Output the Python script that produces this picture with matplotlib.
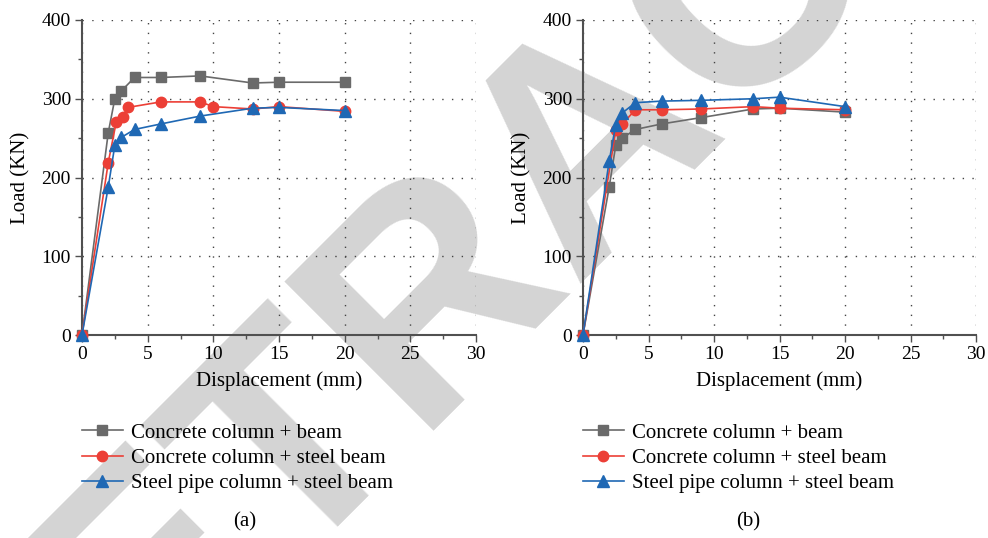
import numpy as np
import matplotlib
matplotlib.use('Agg')
import matplotlib.pyplot as plt
from matplotlib.ticker import MultipleLocator

plt.rcParams['font.family'] = ['Liberation Serif', 'DejaVu Serif']

# Panel (a)
a_conc_beam_x = [0, 2, 2.5, 3, 4, 6, 9, 13, 15, 20]
a_conc_beam_y = [0, 257, 300, 310, 327, 327, 329, 320, 321, 321]
a_conc_steel_x = [0, 2, 2.6, 3.1, 3.5, 6, 9, 10, 13, 15, 20]
a_conc_steel_y = [0, 219, 270, 277, 289, 296, 296, 290, 287, 290, 284]
a_pipe_steel_x = [0, 2, 2.5, 3, 4, 6, 9, 13, 15, 20]
a_pipe_steel_y = [0, 188, 241, 251, 261, 268, 278, 288, 289, 285]

# Panel (b)
b_conc_beam_x = [0, 2, 2.5, 3, 4, 6, 9, 13, 15, 20]
b_conc_beam_y = [0, 188, 241, 250, 261, 268, 276, 287, 288, 283]
b_conc_steel_x = [0, 2.5, 3, 4, 6, 9, 13, 15, 20]
b_conc_steel_y = [0, 260, 268, 286, 286, 287, 290, 288, 286]
b_pipe_steel_x = [0, 2, 2.5, 3, 4, 6, 9, 13, 15, 20]
b_pipe_steel_y = [0, 221, 267, 282, 295, 297, 298, 300, 302, 290]

labels = ['Concrete column + beam',
          'Concrete column + steel beam',
          'Steel pipe column + steel beam']
colors = ['#6a6a6a', '#ec3f36', '#1f68b4']
markers = ['s', 'o', '^']
msizes = [6.5, 7.5, 8]

fig = plt.figure(figsize=(9.88, 5.38), dpi=100)

# watermark, behind the plots
fig.text(648 / 988, 1 - 196 / 538, 'RETRACTED', fontsize=220, color='#d4d4d4',
         family='Liberation Sans', weight='bold', rotation=45,
         rotation_mode='anchor', ha='center', va='baseline', zorder=-1)

W, H = 988, 538
panels = [
    (82, 476, 'a', [(a_conc_beam_x, a_conc_beam_y),
                    (a_conc_steel_x, a_conc_steel_y),
                    (a_pipe_steel_x, a_pipe_steel_y)], 245),
    (583, 976, 'b', [(b_conc_beam_x, b_conc_beam_y),
                     (b_conc_steel_x, b_conc_steel_y),
                     (b_pipe_steel_x, b_pipe_steel_y)], 748),
]

for left, right, tag, series, cap_x in panels:
    ax = fig.add_axes([left / W, (H - 335) / H, (right - left) / W, 315 / H])
    ax.patch.set_alpha(0)
    for (x, y), lab, c, m, ms in zip(series, labels, colors, markers, msizes):
        ax.plot(x, y, color=c, marker=m, markersize=ms, lw=1.2, label=lab,
                clip_on=False, zorder=3)
    ax.set_xlim(0, 30)
    ax.set_ylim(0, 400)
    ax.xaxis.set_major_locator(MultipleLocator(5))
    ax.xaxis.set_minor_locator(MultipleLocator(2.5))
    ax.yaxis.set_major_locator(MultipleLocator(100))
    ax.yaxis.set_minor_locator(MultipleLocator(50))
    for s in ['top', 'right']:
        ax.spines[s].set_visible(False)
    for s in ['left', 'bottom']:
        ax.spines[s].set_color('#505050')
        ax.spines[s].set_linewidth(1.5)
    ax.tick_params(which='major', length=5, width=1, color='#505050',
                   labelsize=14, pad=3)
    ax.tick_params(which='minor', length=3, width=1, color='#505050')
    ax.grid(True, which='major', color='#444444', lw=1, linestyle=(0, (1, 6)))
    ax.set_xlabel('Displacement (mm)', fontsize=15, labelpad=6)
    ax.set_ylabel('Load (KN)', fontsize=15, labelpad=8)
    ax.legend(loc='upper left', bbox_to_anchor=(0, -0.28), frameon=False,
              fontsize=15, borderpad=0, borderaxespad=0, handlelength=1.95,
              handletextpad=0.4, labelspacing=0.27)
    fig.text(cap_x / W, 1 - 522 / H, '(%s)' % tag, fontsize=15,
             ha='center', va='center')

fig.savefig('out.png', dpi=100)
